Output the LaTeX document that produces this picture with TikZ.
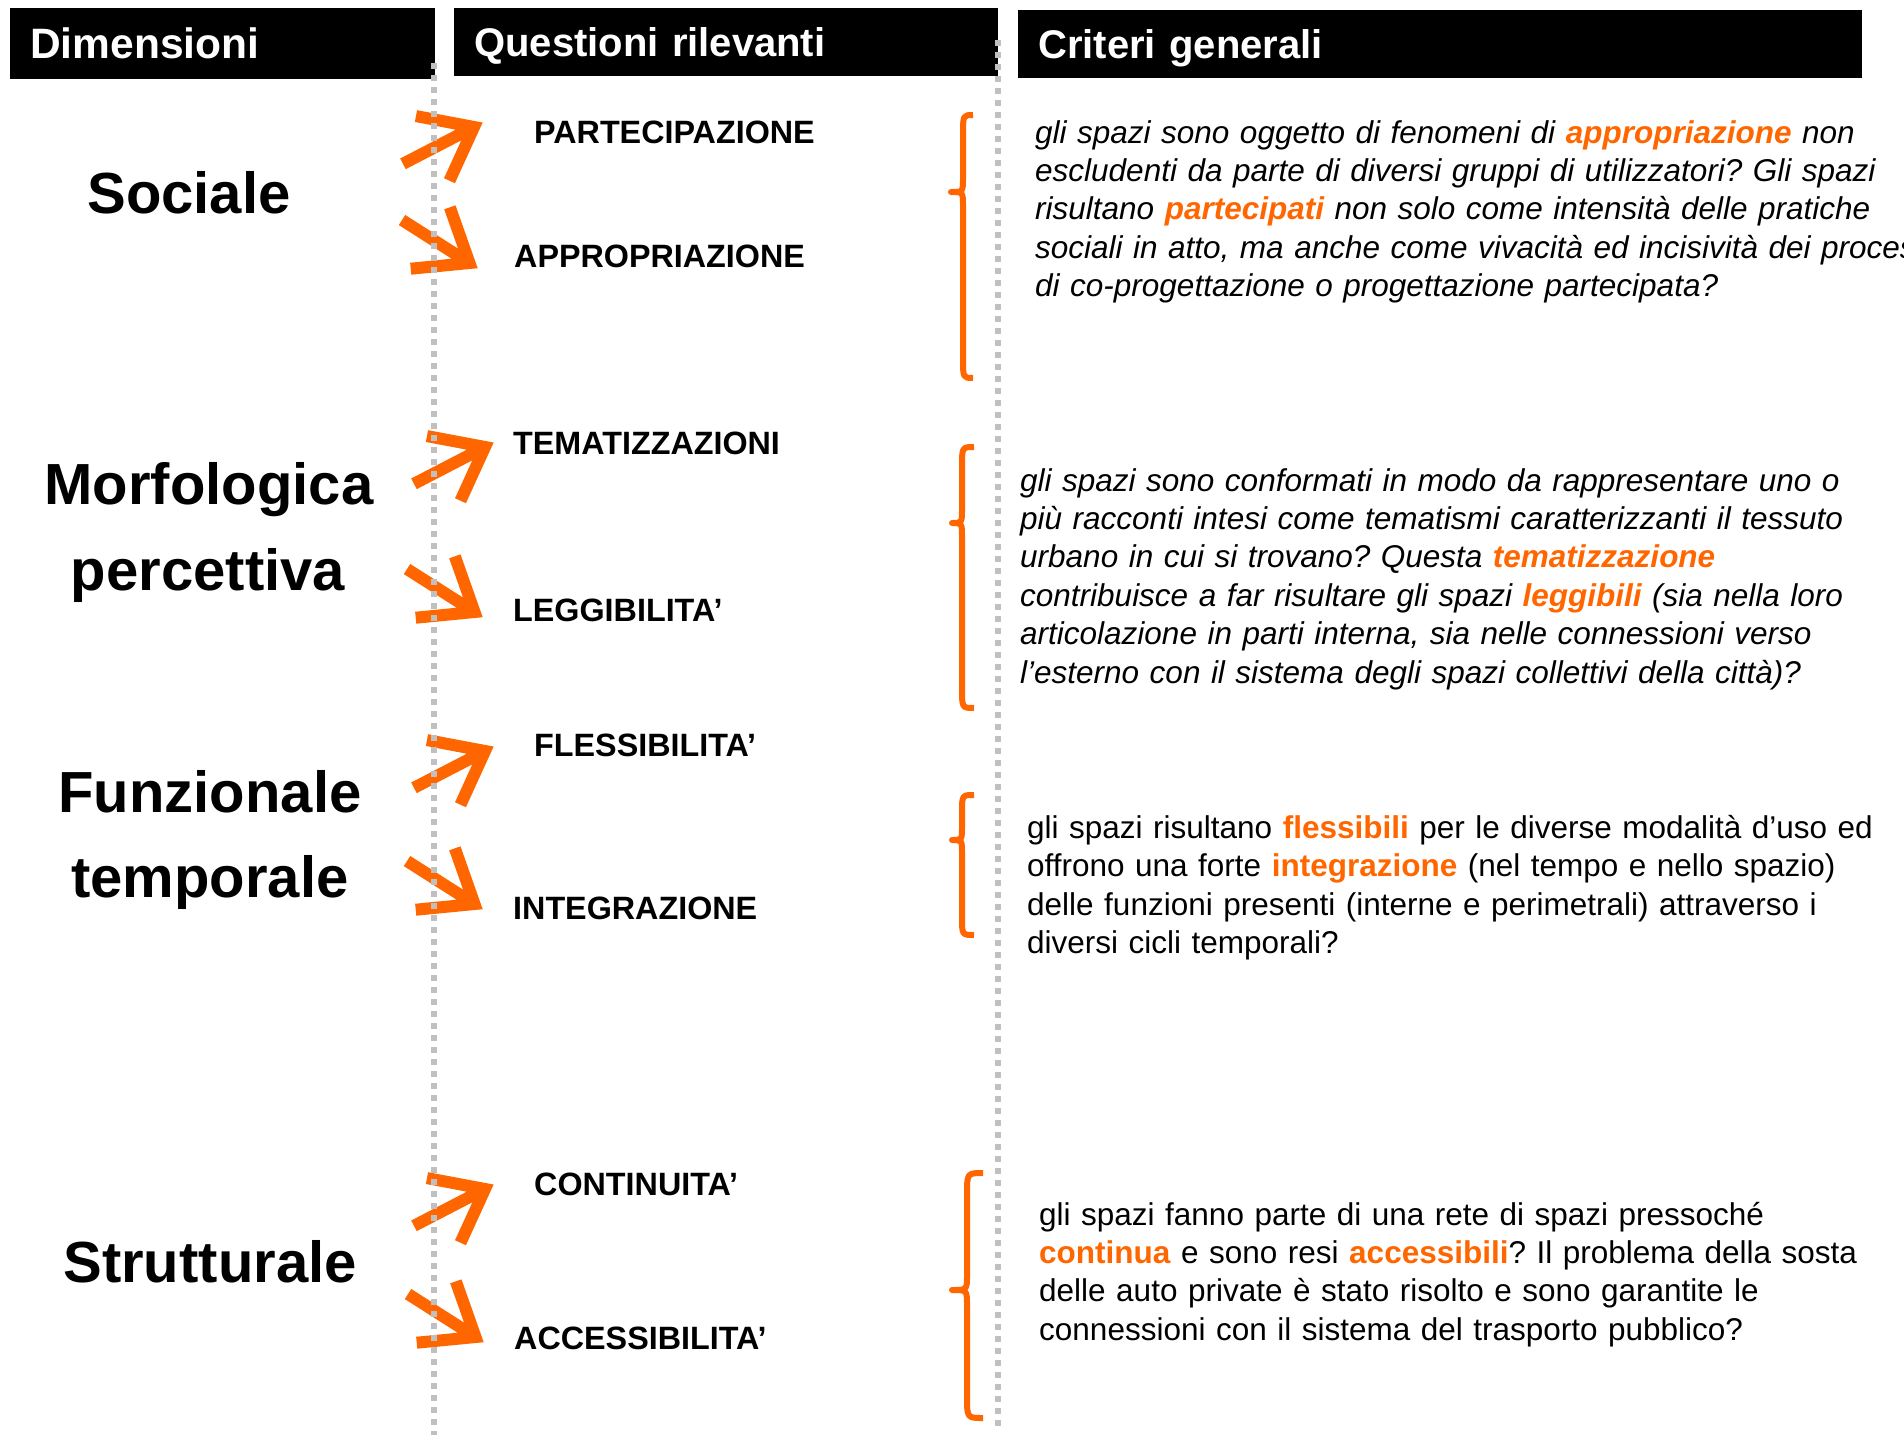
\documentclass[tikz,border=0pt]{standalone}
\usepackage{fontspec}
\setmainfont{Liberation Sans}
\definecolor{orng}{RGB}{255,102,0}
\definecolor{dotgray}{RGB}{192,192,192}
\newcommand\keyw[1]{\textcolor{orng}{\textbf{#1}}}
\begin{document}
\begin{tikzpicture}[
x=1pt, y=-1pt,
head/.style={
fill=black,
text=white,
anchor=north west,
inner xsep=20pt,
inner ysep=0pt,
align=left,
text height=28.6pt,
text depth=0pt,
font=\fontsize{40}{48}\selectfont\bfseries
},
dim/.style={anchor=base, inner sep=0pt, font=\fontsize{58}{70}\selectfont\bfseries},
quest/.style={anchor=base west, inner sep=0pt, font=\fontsize{32.3}{38}\selectfont\bfseries},
crit/.style={anchor=base west, inner sep=0pt, text width=1000pt, align=left, font=\fontsize{31.5}{38.4}\selectfont\frenchspacing},
sep/.style={draw=dotgray, line width=5.5pt, dash pattern=on 5.5pt off 6.5pt},
brc/.style={draw=orng, line width=6pt, line join=round},
chev/.pic={\draw[draw=orng, line width=12pt] (-80,0) -- (0,0) (-46.5,-36.4) -- (0,0) -- (-46.5,36.4);}
]
\useasboundingbox (0,0) rectangle (1904,1435);
\clip (0,0) rectangle (1904,1435);

\node[head, text width=385pt, minimum height=71pt, text height=30.4pt, font=\fontsize{42.5}{50}\selectfont\bfseries] (hdim) at (10,8) {Dimensioni};
\node[head, text width=504pt, minimum height=68pt] (hque) at (454,8) {Questioni rilevanti};
\node[head, text width=804pt, minimum height=68pt] (hcri) at (1018,10) {Criteri generali};

\node[dim] (soc) at (189,213) {Sociale};
\node[dim] (morf) at (209,504) {Morfologica};
\node[dim] (perc) at (208,590) {percettiva};
\node[dim] (funz) at (210,812) {Funzionale};
\node[dim] (temp) at (210,897) {temporale};
\node[dim] (strut) at (210,1282) {Strutturale};

\pic[rotate=27.4] at (474,127) {chev};
\pic[rotate=-32.5] at (469.5,263) {chev};
\pic[rotate=27.4] at (485,447) {chev};
\pic[rotate=-32.5] at (474.5,612) {chev};
\pic[rotate=27.4] at (485,751) {chev};
\pic[rotate=-32.5] at (474.5,904) {chev};
\pic[rotate=27.4] at (485,1189) {chev};
\pic[rotate=-32.5] at (475.5,1337) {chev};

\draw[sep] (434,63) -- (434,1435);
\draw[sep] (998,40) -- (998,1428);

\node[quest] (part) at (534,143) {PARTECIPAZIONE};
\node[quest] (appr) at (514,267) {APPROPRIAZIONE};
\node[quest] (tema) at (513,454) {TEMATIZZAZIONI};
\node[quest] (legg) at (513,621) {LEGGIBILITA’};
\node[quest] (fles) at (534,756) {FLESSIBILITA’};
\node[quest] (integ) at (513,919) {INTEGRAZIONE};
\node[quest] (cont) at (534,1195) {CONTINUITA’};
\node[quest] (acc) at (514,1349) {ACCESSIBILITA’};

\draw[brc] (973,115) .. controls (963,115) .. (963,135) -- (963,178) .. controls (963,192) .. (951,192) .. controls (963,192) .. (963,206) -- (963,358) .. controls (963,378) .. (973,378);
\draw[brc] (974,447) .. controls (962,447) .. (962,467) -- (962,509) .. controls (962,523) .. (952,523) .. controls (962,523) .. (962,537) -- (962,688) .. controls (962,708) .. (974,708);
\draw[brc] (974,795) .. controls (962,795) .. (962,813) -- (962,827) .. controls (962,840) .. (952,840) .. controls (962,840) .. (962,853) -- (962,917) .. controls (962,935) .. (974,935);
\draw[brc] (983,1173) .. controls (967,1173) .. (967,1195) -- (967,1275) .. controls (967,1290) .. (952,1290) .. controls (967,1290) .. (967,1305) -- (967,1396) .. controls (967,1418) .. (983,1418);

\node[crit] (csoc) at (1035,143) {\itshape
gli spazi sono oggetto di fenomeni di \keyw{appropriazione} non\\
escludenti da parte di diversi gruppi di utilizzatori? Gli spazi\\
risultano \keyw{partecipati} non solo come intensità delle pratiche\\
sociali in atto, ma anche come vivacità ed incisività dei processi\\
di co-progettazione o progettazione partecipata?};

\node[crit] (cmorf) at (1020,491) {\itshape
gli spazi sono conformati in modo da rappresentare uno o\\
più racconti intesi come tematismi caratterizzanti il tessuto\\
urbano in cui si trovano? Questa \keyw{tematizzazione}\\
contribuisce a far risultare gli spazi \keyw{leggibili} (sia nella loro\\
articolazione in parti interna, sia nelle connessioni verso\\
l’esterno con il sistema degli spazi collettivi della città)?};

\node[crit] (cfunz) at (1027,838.5) {
gli spazi risultano \keyw{flessibili} per le diverse modalità d’uso ed\\
offrono una forte \keyw{integrazione} (nel tempo e nello spazio)\\
delle funzioni presenti (interne e perimetrali) attraverso i\\
diversi cicli temporali?};

\node[crit] (cstrut) at (1039,1225) {
gli spazi fanno parte di una rete di spazi pressoché\\
\keyw{continua} e sono resi \keyw{accessibili}? Il problema della sosta\\
delle auto private è stato risolto e sono garantite le\\
connessioni con il sistema del trasporto pubblico?};

\end{tikzpicture}
\end{document}
